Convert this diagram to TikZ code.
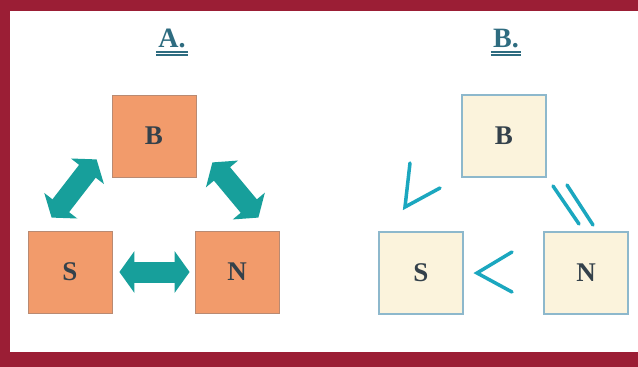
\documentclass[tikz,border=0pt]{standalone}
\usepackage{fontspec}
\setmainfont{Liberation Serif}
\usetikzlibrary{arrows.meta,calc}

\definecolor{frame}{HTML}{9B1E35}
\definecolor{hotfill}{HTML}{F29B6B}
\definecolor{hotedge}{HTML}{B98A72}
\definecolor{creamfill}{HTML}{FBF3DC}
\definecolor{creamedge}{HTML}{8DB8CC}
\definecolor{arrowteal}{HTML}{179F9B}
\definecolor{relcyan}{HTML}{1BA7BF}
\definecolor{letter}{HTML}{34414B}
\definecolor{titleblue}{HTML}{2E6C80}

\tikzset{
  box/.style={minimum width=84pt, minimum height=82pt, inner sep=0pt,
    font=\fontsize{27}{27}\selectfont\bfseries, text=letter},
  hot/.style={box, fill=hotfill, draw=hotedge, line width=0.8pt},
  cool/.style={box, fill=creamfill, draw=creamedge, line width=1.3pt},
  fat/.style={arrowteal, line width=21pt,
    {Triangle[width=41pt,length=15pt]}-{Triangle[width=41pt,length=15pt]}},
  rel/.style={relcyan, line width=3.5pt, line cap=round},
  title/.style={font=\fontsize{28}{28}\selectfont\bfseries, text=titleblue, inner sep=0pt},
  uline/.style={titleblue, line width=1.8pt}
}

\begin{document}
\begin{tikzpicture}[x=1pt,y=-1pt]
\useasboundingbox (0,0) rectangle (638,367);
\fill[frame] (0,0) rectangle (638,367);
\fill[white] (10,11) rectangle (638,352);

% titles
\node[title, anchor=base] (tA) at (172,47) {A.};
\node[title, anchor=base] (tB) at (506,47) {B.};
\foreach \t in {tA,tB} {
  \draw[uline] ($(\t.base west)+(-2,4.8)$) -- ($(\t.base east)+(2,4.8)$);
  \draw[uline] ($(\t.base west)+(-2,7.6)$) -- ($(\t.base east)+(2,7.6)$);
}

% panel A
\node[hot] (aB) at (154,136) {B};
\node[hot] (aS) at (70,272) {S};
\node[hot] (aN) at (237,272) {N};
\draw[fat] ($(aS.north west)+(24,-13)$) -- ($(aB.south west)+(-15,-18)$);
\draw[fat] ($(aB.south east)+(16,-15)$) -- ($(aN.north east)+(-21,-13)$);
\draw[fat] (aS.east) ++(7,0) -- ($(aN.west)+(-5,0)$);

% panel B
\node[cool] (bB) at (504,136) {B};
\node[cool] (bS) at (421,273) {S};
\node[cool] (bN) at (586,273) {N};
\draw[rel] (410,163) -- (405,207) -- (440,188);
\draw[rel] (512,252) -- (477,273) -- (512,292);
\draw[rel] (553,186) -- (579,224);
\draw[rel] (567,185) -- (593,225);
\end{tikzpicture}
\end{document}
